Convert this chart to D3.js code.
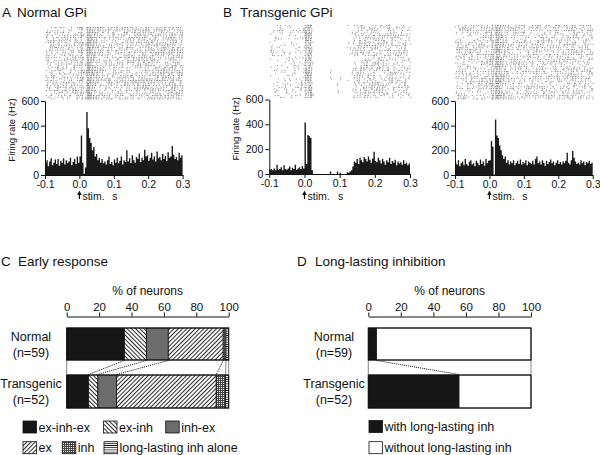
<!DOCTYPE html>
<html><head><meta charset="utf-8">
<script src="https://cdn.jsdelivr.net/npm/d3@7"></script>
<style>
body{margin:0;background:#fff;}
svg{display:block;font-family:"Liberation Sans",Arial,sans-serif;}
</style></head><body>
<svg id="fig" width="600" height="455"></svg>
<script>
// ---------------- DATA ----------------
const binW = 0.004;                       // s, PSTH bin width (starts at -0.1 s)
const timeTicks = [-0.1, 0, 0.1, 0.2, 0.3];
const timeTickLabels = ["-0.1", "0.0", "0.1", "0.2", "0.3"];
const rateTicks = [0, 200, 400, 600];
const pctTicks = [0, 20, 40, 60, 80, 100];

// firing rate (Hz) per 4 ms bin, -0.1 .. 0.3 s
const normalRate = [95,120,70,110,135,80,100,125,90,130,75,115,100,135,85,120,95,110,140,80,105,130,90,150,100,
  150,320,100,10,60,510,380,300,260,200,230,150,170,120,140,100,
  130,95,110,85,120,150,90,105,80,125,100,140,95,115,150,85,120,105,
  200,110,135,95,160,120,100,145,130,175,105,140,120,205,150,160,115,140,180,125,
  150,110,190,135,145,120,170,130,155,115,185,140,150,235,165,130,145,120,180,140,160];
const transgenicRate1 = [35,40,30,45,30,75,35,40,55,30,70,40,35,45,60,30,50,40,75,35,45,55,40,65,45,
  415,80,315,305,290,30,
  0,0,0,0,0,0,0,0,0,0,0,0,20,0,0,0,0,20,0,10,0,0,0,0,15,10,20,
  30,60,100,90,120,80,130,110,95,135,120,100,140,115,90,125,180,105,95,130,
  110,85,120,100,75,110,95,130,80,105,90,115,70,100,85,95,75,110,80,90,70,85];
const transgenicRate2 = [100,85,120,70,95,110,80,130,90,75,105,120,85,95,70,115,100,80,125,90,110,75,130,95,115,
  120,275,230,5,450,320,300,240,200,160,130,150,100,120,
  85,110,95,120,80,100,115,90,125,85,105,95,120,80,110,100,90,115,85,130,
  150,95,110,85,120,100,75,115,90,105,125,95,110,80,100,120,90,105,85,110,
  95,115,180,100,85,120,195,140,110,90,100,85,120,95,110,80,105,95,115,90,100];
const rasterTrials = [44, 44, 44];

// stacked bars
const groups = ["Normal", "Transgenic"];
const groupN = ["(n=59)", "(n=52)"];
const responseTypes = ["ex-inh-ex", "ex-inh", "inh-ex", "ex", "inh", "long-lasting inh alone"];
const normalCounts = [21, 8, 8, 20, 1, 1];
const transgenicCounts = [7, 3, 6, 32, 3, 1];
const inhTypes = ["with long-lasting inh", "without long-lasting inh"];
const normalInh = [3, 56];
const transgenicInh = [29, 23];

// ---------------- DRAW ----------------
const svg = d3.select("#fig");
const defs = svg.append("defs");
function linePattern(id, angle, gap, sw) {
  const p = defs.append("pattern").attr("id", id).attr("patternUnits", "userSpaceOnUse")
    .attr("width", gap).attr("height", gap).attr("patternTransform", `rotate(${angle})`);
  p.append("rect").attr("width", gap).attr("height", gap).attr("fill", "#fff");
  p.append("line").attr("x1", gap/2).attr("x2", gap/2).attr("y1", 0).attr("y2", gap)
    .attr("stroke", "#111").attr("stroke-width", sw);
}
linePattern("pExInh", -45, 3, 0.9);
linePattern("pEx", 45, 3, 0.9);
linePattern("pLong", 90, 2.2, 0.8);
{
  const p = defs.append("pattern").attr("id", "pInh").attr("patternUnits", "userSpaceOnUse")
    .attr("width", 2).attr("height", 2);
  p.append("rect").attr("width", 2).attr("height", 2).attr("fill", "#fff");
  p.append("rect").attr("width", 2).attr("height", 1).attr("fill", "#444");
  p.append("rect").attr("width", 1).attr("height", 2).attr("fill", "#444");
}
const typeFill = ["#161616", "url(#pExInh)", "#6c6c6c", "url(#pEx)", "url(#pInh)", "url(#pLong)"];

const FONT = "Liberation Sans, Arial, sans-serif";
function txt(g, x, y, s, size, anchor) {
  return g.append("text").attr("x", x).attr("y", y).attr("font-size", size)
    .attr("text-anchor", anchor || "start").attr("fill", "#111").text(s);
}

// titles
txt(svg, 2, 17, "A", 13.5); txt(svg, 17, 17, "Normal GPi", 13.5);
txt(svg, 223, 17, "B", 13.5); txt(svg, 240, 17, "Transgenic GPi", 13.5);
txt(svg, 1, 266, "C", 13.5); txt(svg, 18, 266, "Early response", 13.5);
txt(svg, 297, 266, "D", 13.5); txt(svg, 315, 266, "Long-lasting inhibition", 13.5);

// PSTH panels
const panels = [
  {rate: normalRate, x0: 45, x1: 182.6, yTop: 101, yBot: 175, rTop: 27, label: true, trials: rasterTrials[0]},
  {rate: transgenicRate1, x0: 269.3, x1: 410, yTop: 99.5, yBot: 174, rTop: 25, label: true, trials: rasterTrials[1]},
  {rate: transgenicRate2, x0: 455, x1: 592.7, yTop: 101, yBot: 175, rTop: 25, label: false, trials: rasterTrials[2]}
];
panels.forEach(P => {
  const g = svg.append("g");
  const x = d3.scaleLinear().domain([-0.1, 0.3]).range([P.x0, P.x1]);
  const y = d3.scaleLinear().domain([0, 600]).range([P.yBot, P.yTop]);
  // histogram as step area
  const pts = P.rate.map((v, i) => ({t: -0.1 + i * binW, v}));
  pts.push({t: -0.1 + P.rate.length * binW, v: P.rate[P.rate.length - 1]});
  const area = d3.area().x(d => x(d.t)).y0(y(0)).y1(d => y(d.v)).curve(d3.curveStepAfter);
  g.append("path").attr("d", area(pts)).attr("fill", "#1a1a1a");
  // raster derived from the same rates
  const rg = g.append("g").attr("fill", "#8c8c8c");
  const n = P.trials, rowH = (P.yTop - 1 - P.rTop) / n;
  P.rate.forEach((v, i) => {
    const p = v * binW;
    const phase = (i * 0.6180339887) % 1;
    for (let r = 0; r < n; r++) {
      const c = Math.floor((r + 1) * p + phase) - Math.floor(r * p + phase);
      const row = (r * 7 + i * 3) % n;
      for (let k = 0; k < c; k++) {
        const off = ((r * 0.37 + i * 0.21 + k / Math.max(c,1)) % 1);
        const t = -0.1 + (i + off) * binW;
        rg.append("rect").attr("x", x(t)).attr("y", P.rTop + row * rowH)
          .attr("width", 1).attr("height", 1);
      }
    }
  });
  // axes
  const ya = d3.axisLeft(y).tickValues(rateTicks).tickSize(4).tickSizeOuter(0).tickPadding(2);
  const xa = d3.axisBottom(x).tickValues(timeTicks).tickSize(4).tickSizeOuter(0).tickPadding(2)
    .tickFormat((d, i) => timeTickLabels[i]);
  const gy = g.append("g").attr("transform", `translate(${P.x0},0)`).call(ya);
  const gx = g.append("g").attr("transform", `translate(0,${P.yBot})`).call(xa);
  [gx, gy].forEach(a => {
    a.attr("font-family", FONT).attr("font-size", 10.5);
    a.selectAll("path,line").attr("stroke", "#111");
    a.selectAll("text").attr("fill", "#111");
  });
  if (P.label) {
    g.append("text").attr("transform", `translate(${P.x0 - 30},${(P.yTop + P.yBot) / 2 - 8}) rotate(-90)`)
      .attr("text-anchor", "middle").attr("font-size", 9.5).attr("fill", "#111").text("Firing rate (Hz)");
  }
  // stim arrow
  const xs0 = x(0);
  g.append("line").attr("x1", xs0).attr("x2", xs0).attr("y1", 199).attr("y2", 194).attr("stroke", "#111").attr("stroke-width", 1.2);
  g.append("path").attr("d", `M${xs0 - 2.2},195 L${xs0 + 2.2},195 L${xs0},190.5 Z`).attr("fill", "#111");
  txt(g, xs0 + 3, 200, "stim.", 10.5);
  txt(g, x(0.1) + 1, 200, "s", 10.5, "middle");
});

// stacked bar panels
function barPanel(cfg) {
  const g = svg.append("g");
  const x = d3.scaleLinear().domain([0, 100]).range([cfg.x0, cfg.x1]);
  const ax = d3.axisTop(x).tickValues(pctTicks).tickSize(4).tickSizeOuter(0).tickPadding(2);
  const ga = g.append("g").attr("transform", "translate(0,316.5)").call(ax);
  ga.attr("font-family", FONT).attr("font-size", 11.5);
  ga.selectAll("path,line").attr("stroke", "#111");
  ga.selectAll("text").attr("fill", "#111");
  txt(g, (cfg.x0 + cfg.x1) / 2, 294.5, "% of neurons", 12, "middle");
  const bars = [{y: 328, h: 32}, {y: 375, h: 33}];
  const bounds = [];
  cfg.counts.forEach((counts, gi) => {
    const tot = d3.sum(counts);
    let acc = 0;
    const b = [0];
    counts.forEach((c, ci) => {
      const a0 = acc / tot * 100; acc += c; const a1 = acc / tot * 100;
      b.push(a1);
      if (c > 0) g.append("rect").attr("x", x(a0)).attr("y", bars[gi].y)
        .attr("width", x(a1) - x(a0)).attr("height", bars[gi].h)
        .attr("fill", cfg.fills[ci]).attr("stroke", "#111").attr("stroke-width", 0.8);
    });
    bounds.push(b);
    g.append("rect").attr("x", x(0)).attr("y", bars[gi].y).attr("width", x(100) - x(0))
      .attr("height", bars[gi].h).attr("fill", "none").attr("stroke", "#111").attr("stroke-width", 1);
    txt(g, cfg.lx, bars[gi].y + 13, groups[gi], 12.5, "middle");
    txt(g, cfg.lx, bars[gi].y + 29, groupN[gi], 12.5, "middle");
  });
  // dotted connectors
  bounds[0].forEach((v, k) => {
    g.append("line").attr("x1", x(v)).attr("y1", 360.5).attr("x2", x(bounds[1][k])).attr("y2", 374.5)
      .attr("stroke", "#111").attr("stroke-width", 1).attr("stroke-dasharray", "1,1");
  });
  // legend
  cfg.legend.forEach(L => {
    g.append("rect").attr("x", L.x).attr("y", L.y).attr("width", 13.5).attr("height", 12)
      .attr("fill", cfg.fills[L.i]).attr("stroke", "#111").attr("stroke-width", 0.8);
    txt(g, L.x + 15.5, L.y + 10.5, cfg.names[L.i], 12.5);
  });
}
barPanel({
  x0: 66.7, x1: 228.7, lx: 31,
  counts: [normalCounts, transgenicCounts], fills: typeFill, names: responseTypes,
  legend: [{i: 0, x: 23, y: 421}, {i: 1, x: 103.5, y: 421}, {i: 2, x: 165.7, y: 421},
           {i: 3, x: 23, y: 441.7}, {i: 4, x: 62.3, y: 441.7}, {i: 5, x: 104, y: 441.7}]
});
barPanel({
  x0: 368.3, x1: 531, lx: 334,
  counts: [normalInh, transgenicInh], fills: ["#161616", "#fff"], names: inhTypes,
  legend: [{i: 0, x: 369, y: 420.5}, {i: 1, x: 369, y: 441.7}]
});
</script>
</body></html>
